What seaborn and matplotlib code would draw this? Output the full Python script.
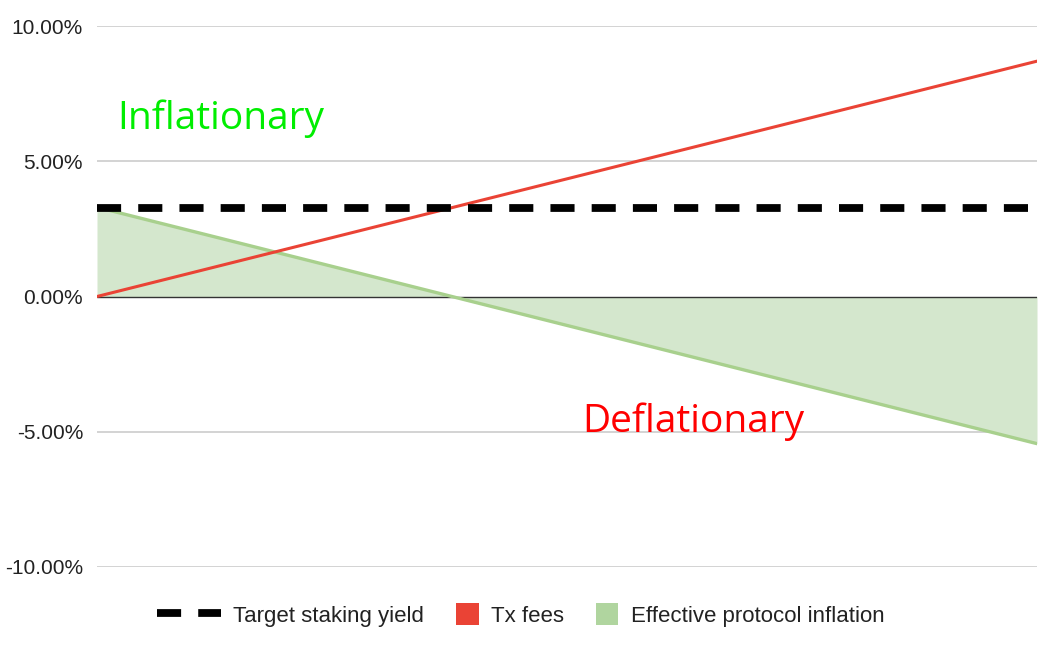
import numpy as np
import pandas as pd
import matplotlib
matplotlib.use("Agg")
import matplotlib.pyplot as plt
import seaborn as sns
from matplotlib.patches import Patch, Rectangle
from matplotlib.lines import Line2D
from matplotlib.legend_handler import HandlerPatch
from matplotlib.ticker import FuncFormatter

# ── Data (in %) ────────────────────────────────────────
x_pos = [0, 1]
target_yield = [3.26, 3.26]
tx_fees = [0.0, 8.70]
effective_inflation = [3.30, -5.44]

y_ticks = [-10, -5, 0, 5, 10]

# ── Setup ──────────────────────────────────────────────
sns.set_theme(style="white")
plt.rcParams["font.family"] = ["Liberation Sans", "DejaVu Sans"]

df = pd.DataFrame({
    "x": x_pos,
    "Target staking yield": target_yield,
    "Tx fees": tx_fees,
    "Effective protocol inflation": effective_inflation,
})

fig = plt.figure(figsize=(10.6, 6.56), dpi=100)
ax = fig.add_axes([97 / 1060, 1 - 567 / 656, (1037 - 97) / 1060, (567 - 26) / 656])

# gridlines
for t in y_ticks:
    if t == 0:
        continue
    ax.axhline(t, color="#cccccc", lw=1.2, zorder=0)

# effective inflation area
ax.fill_between(df["x"], 0, df["Effective protocol inflation"],
                color="#d4e7cd", lw=0, zorder=1)
ax.axhline(0, color="#333333", lw=1.0, zorder=1.5)
sns.lineplot(data=df, x="x", y="Effective protocol inflation", ax=ax,
             color="#a8d08d", lw=2.4, zorder=2)

sns.lineplot(data=df, x="x", y="Tx fees", ax=ax,
             color="#ea4335", lw=2.2, zorder=3)

sns.lineplot(data=df, x="x", y="Target staking yield", ax=ax,
             color="black", lw=5.6, zorder=4, dashes=False)
ax.lines[-1].set_dashes((3.1, 2.2))
ax.lines[-1].set_dash_capstyle("butt")

ax.set_xlim(0, 1)
ax.set_ylim(-10, 10)
ax.set_yticks(y_ticks)
ax.yaxis.set_major_formatter(FuncFormatter(lambda v, p: f"{v:.2f}%"))
ax.set_xticks([])
ax.set_xlabel("")
ax.set_ylabel("")
ax.tick_params(axis="y", length=0, pad=10, labelsize=15, labelcolor="#222222")
for s in ax.spines.values():
    s.set_visible(False)

# annotations
ax.text(0.022, 6.2, "Inflationary", color="#00ee00", fontsize=28,
        family=["Open Sans", "DejaVu Sans"], ha="left", va="baseline")
ax.text(0.516, -5.0, "Deflationary", color="#ff0000", fontsize=28,
        family=["Open Sans", "DejaVu Sans"], ha="left", va="baseline")


# legend: square swatches sit at the right end of the handle box
def square_patch(legend, orig_handle, xdescent, ydescent, width, height, fontsize):
    s = 16
    return Rectangle((width - s - xdescent, -ydescent + (height - s) / 2), s, s)


handles = [
    Line2D([0], [0], color="black", lw=5.6, dashes=(3.1, 2.2), dash_capstyle="butt"),
    Patch(facecolor="#ea4335", edgecolor="none"),
    Patch(facecolor="#b0d59f", edgecolor="none"),
]
labels = ["Target staking yield", "Tx fees", "Effective protocol inflation"]
fig.legend(handles, labels, loc="center", bbox_to_anchor=(0.491, 0.062), ncol=3,
           frameon=False, fontsize=16, handlelength=2.9, handleheight=1.0,
           columnspacing=-0.45, handletextpad=0.55, labelcolor="#222222",
           handler_map={Patch: HandlerPatch(patch_func=square_patch)})

fig.savefig("out.png", dpi=100)
plt.close()
